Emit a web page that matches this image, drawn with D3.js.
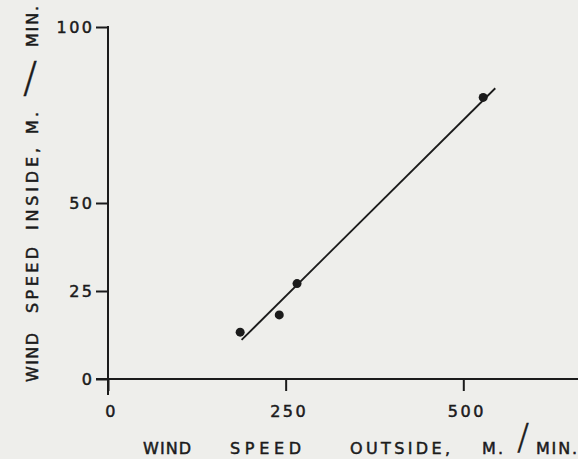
<!DOCTYPE html>
<html><head><meta charset="utf-8">
<script src="https://cdn.jsdelivr.net/npm/d3@7"></script>
<style>html,body{margin:0;padding:0;background:#eeeeeb;} svg{display:block;}</style>
</head><body>
<script>
// ---- data ----
const xValues = [186, 241, 266, 528];        // wind speed outside, m/min
const yValues = [13.3, 18.2, 27.1, 80.0];    // wind speed inside, m/min
const fitX = [188, 545];                     // fitted line end points (x)
const fitY = [11.1, 82.6];                   // fitted line end points (y)
const xTickValues = [0, 250, 500];
const yTickValues = [0, 25, 50, 100];
const xTitleWords = ["WIND", "SPEED", "OUTSIDE,", "M.", "MIN."];
const yTitleWords = ["WIND", "SPEED", "INSIDE,", "M.", "MIN."];
const slashText = "/";

// ---- layout ----
const W = 578, H = 459;
const ink = "#1b1b1b";
const font = "DejaVu Sans";
const xTitleStart = [143, 230, 350, 482, 536];
const xTitleLen   = [48, 71, 100, 21, 41];
const yTitleStart = [382, 313, 230, 134, 47];   // bottom end of each word (screen y)
const yTitleLen   = [49, 66, 82, 22, 41];

const svg = d3.select("body").append("svg").attr("width", W).attr("height", H);
svg.append("rect").attr("width", W).attr("height", H).attr("fill", "#eeeeeb");

const x = d3.scaleLinear().domain([0, 500]).range([108, 463.3]);
const y = d3.scaleLinear().domain([0, 100]).range([379, 27]);

function styleText(sel, size) {
  sel.attr("fill", ink).attr("stroke", ink).attr("stroke-width", 0.5)
     .attr("font-family", font).attr("font-size", size);
}

// y axis
const gy = svg.append("g").attr("transform", `translate(${x(0)},0)`)
  .call(d3.axisLeft(y).tickValues(yTickValues).tickSize(12).tickPadding(4).tickFormat(d3.format("d")));
gy.select(".domain").remove();
gy.selectAll("line").attr("stroke", ink).attr("stroke-width", 2);
gy.selectAll("text").call(styleText, 16).attr("letter-spacing", 2.5).attr("dx", 2.5);

// x axis
const gx = svg.append("g").attr("transform", `translate(0,${y(0)})`)
  .call(d3.axisBottom(x).tickValues(xTickValues).tickSize(12).tickPadding(15).tickFormat(d3.format("d")));
gx.select(".domain").remove();
gx.selectAll("line").attr("stroke", ink).attr("stroke-width", 2);
gx.selectAll("text").call(styleText, 16).attr("letter-spacing", 2.5).attr("dx", 3);

// axis lines
svg.append("line").attr("x1", x(0)).attr("x2", x(0)).attr("y1", y(100) - 1).attr("y2", y(0) + 16)
  .attr("stroke", ink).attr("stroke-width", 2);
svg.append("line").attr("x1", x(0) - 12).attr("x2", W).attr("y1", y(0)).attr("y2", y(0))
  .attr("stroke", ink).attr("stroke-width", 2);

// fitted line
svg.append("line").attr("x1", x(fitX[0])).attr("y1", y(fitY[0]))
  .attr("x2", x(fitX[1])).attr("y2", y(fitY[1]))
  .attr("stroke", ink).attr("stroke-width", 1.8);

// points
svg.selectAll("circle.pt").data(xValues.map((v, i) => [v, yValues[i]])).join("circle")
  .attr("class", "pt").attr("cx", d => x(d[0])).attr("cy", d => y(d[1])).attr("r", 4.5)
  .attr("fill", ink);

// x title
xTitleWords.forEach((w, i) => {
  svg.append("text").attr("x", xTitleStart[i]).attr("y", 454).text(w)
    .call(styleText, 16).attr("textLength", xTitleLen[i]).attr("lengthAdjust", "spacing");
});
svg.append("text").attr("x", 517).attr("y", 448.5).text(slashText)
  .attr("fill", ink).attr("stroke", ink).attr("stroke-width", 0.4)
  .attr("font-family", font).attr("font-weight", 200).attr("font-size", 36);

// y title (rotated)
const gt = svg.append("g").attr("transform", "translate(38,0) rotate(-90)");
yTitleWords.forEach((w, i) => {
  gt.append("text").attr("x", -yTitleStart[i]).attr("y", 0).text(w)
    .call(styleText, 16).attr("textLength", yTitleLen[i]).attr("lengthAdjust", "spacing");
});
svg.append("text").attr("x", 23).attr("y", 92).text(slashText)
  .attr("fill", ink).attr("stroke", ink).attr("stroke-width", 0.4)
  .attr("font-family", font).attr("font-weight", 200).attr("font-size", 42);
</script>
</body></html>
